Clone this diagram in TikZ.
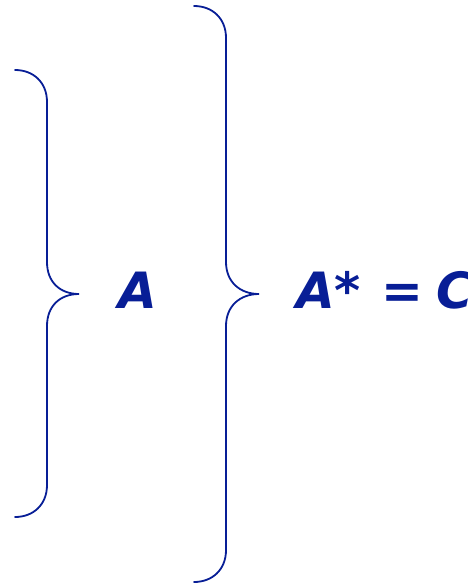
\documentclass[tikz,border=0pt]{standalone}
\usepackage{fontspec}
\newfontfamily\handfont{DejaVu Sans}
\definecolor{inkblue}{RGB}{8,30,150}
\begin{document}
\begin{tikzpicture}[x=1pt,y=-1pt,
  bracestyle/.style={draw=inkblue,line width=1.8pt,line cap=round},
  labelstyle/.style={text=inkblue,font=\handfont\bfseries\itshape\fontsize{50}{60}\selectfont,inner sep=0pt,anchor=base west}]
\useasboundingbox (0,0) rectangle (467,585);
% left brace
\coordinate (b1top) at (15,70);
\coordinate (b1tip) at (79,294);
\coordinate (b1bot) at (15,517);
\draw[bracestyle] (b1top) .. controls (33,70) and (47,82) .. (47,102) -- (47,262)
  .. controls (47,282) and (60,294) .. (b1tip)
  .. controls (60,294) and (47,306) .. (47,326) -- (47,485)
  .. controls (47,505) and (33,517) .. (b1bot);
% right brace
\coordinate (b2top) at (194,6);
\coordinate (b2tip) at (259,294);
\coordinate (b2bot) at (194,582);
\draw[bracestyle] (b2top) .. controls (212,6) and (226,18) .. (226,38) -- (226,262)
  .. controls (226,282) and (240,294) .. (b2tip)
  .. controls (240,294) and (226,306) .. (226,326) -- (226,550)
  .. controls (226,570) and (212,582) .. (b2bot);
\node[labelstyle] (la) at (118,308) {A};
\node[labelstyle] (lb) at (296,308) {A*\hspace{20pt}=\hspace{14pt}C};
\end{tikzpicture}
\end{document}
